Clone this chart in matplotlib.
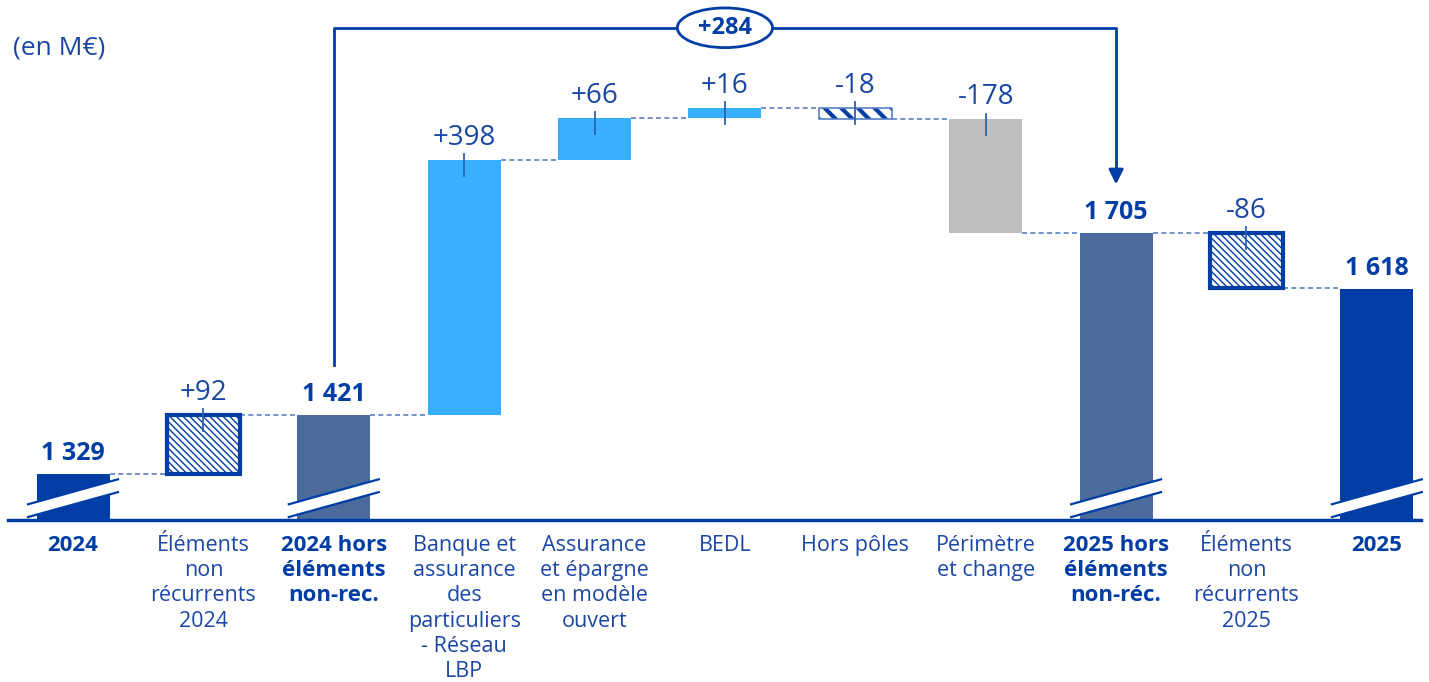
import numpy as np
import matplotlib
matplotlib.use("Agg")
import matplotlib.pyplot as plt
from matplotlib.patches import Ellipse, Polygon

plt.rcParams['font.family'] = ['Open Sans', 'DejaVu Sans']

# données (en M€)
labels = ["2024", "Éléments\nnon\nrécurrents\n2024", "2024 hors\néléments\nnon-rec.",
          "Banque et\nassurance\ndes\nparticuliers\n- Réseau\nLBP",
          "Assurance\net épargne\nen modèle\nouvert", "BEDL", "Hors pôles",
          "Périmètre\net change", "2025 hors\néléments\nnon-réc.",
          "Éléments\nnon\nrécurrents\n2025", "2025"]
values = [1329, 92, 1421, 398, 66, 16, -18, -178, 1705, -86, 1618]
kinds = ["total", "nonrec", "sub", "pos", "pos", "pos", "hatch", "neg", "sub", "nonrec", "total"]
value_text = ["1 329", "+92", "1 421", "+398", "+66", "+16", "-18", "-178", "1 705", "-86", "1 618"]
delta_total = 284

DARK = "#003DA5"
MID = "#4A6B9B"
LIGHT = "#38B0FF"
GREY = "#BFBFBF"
TXT = "#1A47A6"
CONN = "#5A80C4"

base = 1257
w = 0.56

fig = plt.figure(figsize=(14.29, 6.82), dpi=100)
ax = fig.add_axes([0, 0, 1, 1])
ax.set_xlim(-0.56, 10.40)
ax.set_ylim(1003.8, 2069.4)
ax.axis('off')

# calcul des bas/hauts
bottoms, tops, ends = [], [], []
level = 0
for v, k in zip(values, kinds):
    if k in ("total", "sub"):
        level = v
        bottoms.append(base)
        tops.append(v)
    else:
        start = level
        level = level + v
        bottoms.append(min(start, level))
        tops.append(max(start, level))
    ends.append(level)

x = np.arange(len(values))
for i, k in enumerate(kinds):
    h = tops[i] - bottoms[i]
    if k == "total":
        ax.bar(x[i], h, w, bottom=bottoms[i], color=DARK, zorder=2)
    elif k == "sub":
        ax.bar(x[i], h, w, bottom=bottoms[i], color=MID, zorder=2)
    elif k == "pos":
        ax.bar(x[i], h, w, bottom=bottoms[i], color=LIGHT, zorder=2)
    elif k == "neg":
        ax.bar(x[i], h, w, bottom=bottoms[i], color=GREY, zorder=2)
    elif k == "nonrec":
        with plt.rc_context({'hatch.linewidth': 1.0}):
            ax.bar(x[i], h, w, bottom=bottoms[i], color="white", edgecolor=DARK,
                   hatch='\\' * 5, linewidth=3, zorder=2)
    elif k == "hatch":
        with plt.rc_context({'hatch.linewidth': 3.0}):
            ax.bar(x[i], h, w, bottom=bottoms[i], color="white", edgecolor=DARK,
                   hatch='\\\\', linewidth=0, zorder=2)
        ax.bar(x[i], h, w, bottom=bottoms[i], color="none", edgecolor=CONN,
               linewidth=1.2, zorder=2)

# lignes de liaison
for i in range(len(values) - 1):
    ax.plot([x[i] + w / 2, x[i + 1] - w / 2], [ends[i], ends[i]],
            ls=(0, (3, 2)), color=CONN, lw=1.2, zorder=1)

# étiquettes de valeurs
for i, k in enumerate(kinds):
    if k in ("total", "sub"):
        ax.annotate(value_text[i], (x[i], tops[i]), xytext=(0, 15), textcoords='offset points',
                    ha='center', va='center', fontsize=18, fontweight='bold', color=DARK)
    else:
        ax.annotate(value_text[i], (x[i], tops[i]), xytext=(0, 16), textcoords='offset points',
                    ha='center', va='center', fontsize=20, color=TXT)
        ax.plot([x[i], x[i]], [tops[i] + 9, tops[i] - 25], color="#2F5FB8", lw=1.3, zorder=3)

# coupures d'axe
for i in [0, 2, 8, 10]:
    x0, x1 = x[i] - 0.345, x[i] + 0.345
    yc, half, slope = 1291, 10, 39
    poly = Polygon([[x0, yc - half - slope / 2], [x1, yc - half + slope / 2],
                    [x1, yc + half + slope / 2], [x0, yc + half - slope / 2]],
                   closed=True, facecolor='white', edgecolor='none', zorder=4)
    ax.add_patch(poly)
    for s in (-half, half):
        ax.plot([x0, x1], [yc + s - slope / 2, yc + s + slope / 2], color=DARK, lw=1.6, zorder=5)

# axe
ax.plot([-0.5, 10.34], [base, base], color=DARK, lw=2.5, zorder=6)

# catégories
for i, lab in enumerate(labels):
    bold = kinds[i] in ("total", "sub")
    ax.text(x[i], 1234, lab, ha='center', va='top', fontsize=16 if bold else 15.5,
            fontweight='bold' if bold else 'normal', color=DARK if bold else TXT,
            linespacing=1.27)

# flèche +284
ytop = 2026
ax.plot([x[2], x[2], x[8], x[8]], [1499, ytop, ytop, 1800], color=DARK, lw=2, zorder=3)
ax.annotate('', xy=(x[8], 1777), xytext=(x[8], 1810),
            arrowprops=dict(arrowstyle='-|>', color=DARK, lw=2, mutation_scale=22))
xm = (x[2] + x[8]) / 2
ax.add_patch(Ellipse((xm, ytop), 0.73, 62, facecolor='white', edgecolor=DARK, lw=2, zorder=6))
ax.text(xm, ytop, f"+{delta_total}", ha='center', va='center', fontsize=17, fontweight='bold',
        fontstretch='condensed', color=DARK, zorder=7)

ax.text(-0.46, 1995, "(en M€)", ha='left', va='center', fontsize=19, color=TXT)

fig.savefig("out.png", dpi=100)
